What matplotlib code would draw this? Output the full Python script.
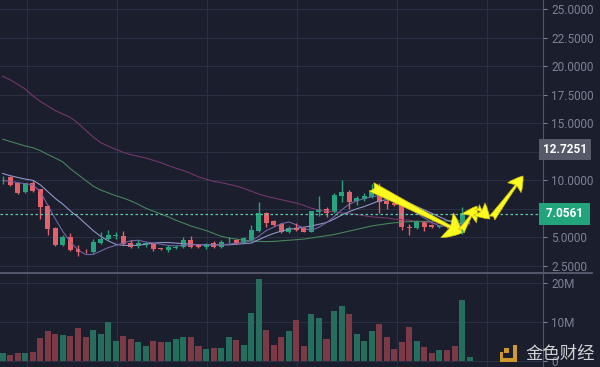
import matplotlib
matplotlib.use('Agg')
import matplotlib.pyplot as plt
import numpy as np
from matplotlib.lines import Line2D
from matplotlib.patches import Rectangle

# candle data (one entry per day)
opens = [10.0, 10.26, 9.74, 8.97, 9.74, 9.22, 7.75, 5.85, 4.33, 5.0,
         3.98, 3.85, 3.7, 4.53, 4.87, 5.12, 5.15, 4.53, 4.33, 4.3,
         4.42, 4.05, 3.9, 4.1, 4.13, 4.77, 4.3, 4.13, 4.53, 4.19,
         4.65, 4.77, 4.62, 4.77, 5.6, 7.1, 6.44, 6.2, 5.45, 5.85,
         5.85, 5.5, 7.2, 7.45, 7.2, 8.63, 9.0, 8.22, 8.33, 8.5,
         9.15, 8.22, 8.0, 7.84, 5.9, 5.8, 6.33, 6.1, 5.9, 6.0,
         6.0, 5.35, 7.0]
highs = [10.38, 10.4, 9.8, 9.8, 10.03, 9.25, 7.8, 5.9, 5.2, 5.41,
         4.3, 4.0, 4.85, 5.5, 5.65, 5.45, 5.6, 4.75, 4.75, 4.6,
         4.5, 4.1, 4.35, 4.35, 5.0, 5.1, 4.4, 4.55, 4.7, 4.75,
         5.0, 4.9, 5.0, 6.1, 8.07, 7.25, 6.55, 6.3, 6.0, 6.3,
         5.95, 7.35, 8.63, 7.7, 8.93, 10.03, 9.15, 8.65, 8.85, 9.68,
         9.75, 8.4, 8.05, 7.95, 6.2, 6.5, 6.4, 6.2, 6.1, 6.1,
         6.05, 7.7, 7.15]
lows = [9.68, 9.5, 8.8, 8.9, 8.95, 6.58, 5.18, 4.25, 4.25, 3.85,
        3.4, 3.6, 3.65, 4.4, 4.75, 4.9, 4.35, 4.05, 4.1, 4.2,
        3.85, 3.9, 3.75, 3.95, 4.05, 4.1, 4.1, 3.95, 4.1, 4.1,
        4.5, 4.45, 4.55, 4.7, 5.5, 5.94, 6.0, 5.4, 5.35, 5.6,
        5.45, 5.45, 6.9, 6.75, 7.15, 8.1, 7.5, 7.85, 8.2, 8.45,
        7.17, 7.5, 7.75, 5.65, 5.21, 5.75, 5.6, 5.85, 5.8, 5.8,
        5.3, 5.3, 6.95]
closes = [10.05, 9.59, 8.92, 9.74, 9.04, 7.69, 5.71, 4.33, 5.06, 3.9,
          3.7, 3.78, 4.63, 4.83, 5.2, 5.18, 4.42, 4.13, 4.47, 4.53,
          3.96, 3.98, 4.19, 4.15, 4.77, 4.19, 4.16, 4.42, 4.19, 4.6,
          4.72, 4.53, 4.92, 5.65, 7.1, 6.29, 6.1, 5.5, 5.85, 5.65,
          5.5, 7.3, 7.5, 7.15, 8.72, 9.0, 8.13, 8.48, 8.63, 9.15,
          8.13, 7.93, 7.85, 5.9, 5.8, 6.38, 5.9, 5.95, 6.0, 5.9,
          5.4, 7.1, 7.0561]
# volume in millions
volume_m = [1.9, 1.6, 1.9, 1.9, 2.3, 5.9, 7.6, 6.9, 6.6, 6.3,
            8.3, 6.1, 8.0, 7.0, 10.0, 5.2, 6.3, 5.6, 4.9, 3.9,
            5.0, 4.7, 4.9, 5.6, 6.1, 6.1, 3.7, 3.0, 3.3, 3.3,
            6.1, 5.4, 4.1, 12.3, 21.0, 7.8, 4.1, 6.1, 7.6, 10.5,
            3.9, 12.0, 11.0, 5.6, 12.7, 14.2, 12.0, 6.9, 5.2, 7.6,
            9.4, 6.1, 3.0, 4.7, 8.7, 5.2, 3.5, 1.9, 2.7, 2.7,
            3.7, 15.6, 0.9]

# moving average lines as drawn on the chart
ma_fast = [10.0, 9.9, 9.8, 9.7, 9.6, 9.0, 7.8, 6.6, 5.5, 4.6,
           3.9, 3.5, 3.5, 3.8, 4.1, 4.3, 4.5, 4.7, 4.75, 4.6,
           4.5, 4.4, 4.3, 4.25, 4.3, 4.35, 4.35, 4.35, 4.35, 4.35,
           4.4, 4.5, 4.55, 4.7, 5.1, 5.6, 5.9, 6.2, 6.35, 6.1,
           5.8, 5.6, 5.9, 6.3, 6.8, 7.4, 7.9, 8.2, 8.4, 8.55,
           8.65, 8.6, 8.4, 8.1, 7.6, 7.1, 6.7, 6.3, 6.0, 6.0,
           5.95, 6.2, 6.3]
ma_mid = [10.6, 10.4, 10.25, 10.1, 10.0, 9.6, 9.0, 8.4, 7.9, 7.3,
          6.8, 6.2, 5.6, 5.1, 4.7, 4.4, 4.3, 4.3, 4.3, 4.4,
          4.5, 4.55, 4.55, 4.5, 4.45, 4.4, 4.35, 4.35, 4.35, 4.35,
          4.35, 4.4, 4.45, 4.5, 4.8, 5.1, 5.35, 5.55, 5.7, 5.8,
          5.9, 6.0, 6.15, 6.3, 6.6, 6.95, 7.25, 7.5, 7.7, 7.95,
          8.2, 8.3, 8.3, 8.2, 8.0, 7.7, 7.4, 7.1, 6.8, 6.5,
          6.3, 6.2, 6.25]
ma_green = [13.6, 13.4, 13.2, 13.0, 12.85, 12.6, 12.25, 11.95, 11.6, 11.0,
            10.5, 10.0, 9.5, 9.15, 8.9, 8.65, 8.45, 8.2, 7.9, 7.55,
            7.3, 7.05, 6.8, 6.5, 6.25, 6.0, 5.8, 5.6, 5.35, 5.1,
            4.95, 4.85, 4.75, 4.7, 4.65, 4.63, 4.65, 4.7, 4.75, 4.8,
            4.85, 4.95, 5.05, 5.15, 5.25, 5.4, 5.55, 5.7, 5.85, 6.0,
            6.1, 6.2, 6.28, 6.33, 6.38, 6.4, 6.4, 6.4, 6.42, 6.43,
            6.45, 6.47, 6.5]
ma_slow = [19.1, 18.8, 18.4, 18.0, 17.4, 16.9, 16.5, 16.1, 15.8, 15.5,
           15.0, 14.4, 13.8, 13.3, 13.0, 12.7, 12.45, 12.25, 12.1, 11.95,
           11.75, 11.55, 11.3, 11.05, 10.85, 10.6, 10.3, 10.1, 9.9, 9.8,
           9.65, 9.5, 9.3, 9.05, 8.8, 8.6, 8.45, 8.3, 8.15, 8.0,
           7.8, 7.55, 7.4, 7.3, 7.25, 7.15, 7.1, 7.0, 6.9, 6.8,
           6.75, 6.7, 6.6, 6.55, 6.5, 6.4, 6.35, 6.25, 6.2, 6.15,
           6.1, 6.1, 6.1]

price_ticks = [2.5, 5.0, 7.5, 10.0, 12.5, 15.0, 17.5, 20.0, 22.5, 25.0]
volume_ticks = [0, 10, 20]
volume_labels = ['0', '10M', '20M']
grid_days = [3.2, 15.2, 27.1, 39.1, 52.4, 64.3]
last_price = 7.0561
marker_price = 12.7251

# hand drawn yellow arrows (day index, price)
arrow_paths = [((49.0, 9.41), (61.0, 5.39)),
               ((60.9, 5.56), (63.0, 7.75)),
               ((63.0, 7.66), (64.7, 6.61)),
               ((65.0, 6.70), (69.1, 10.38))]

bg = '#1b1e2d'
grid_c = '#2b2f42'
txt_c = '#7c8194'
up_c = '#27a37d'
down_c = '#e2616a'
vol_up = '#256d5d'
vol_down = '#7b3a45'

plt.rcParams['font.family'] = ['Roboto', 'DejaVu Sans']

fig = plt.figure(figsize=(6, 3.67), dpi=100, facecolor=bg)
ax = fig.add_axes([0, 0.2589, 0.905, 0.7411], facecolor=bg)
axv = fig.add_axes([0, 0, 0.905, 0.2534], facecolor=bg)

days = np.arange(len(closes))
o = np.array(opens)
c = np.array(closes)
up = c >= o
colors = np.where(up, up_c, down_c)

# moving averages
ax.plot(days, ma_slow, color='#74366c', lw=0.8)
ax.plot(days, ma_green, color='#468559', lw=0.8)
ax.plot(days, ma_mid, color='#8e96c8', lw=0.8)
ax.plot(days, ma_fast, color='#7364a6', lw=0.8)

# candles
ax.vlines(days, lows, highs, color=colors, lw=1.0)
body_h = np.maximum(np.abs(c - o), 0.06)
ax.bar(days, body_h, bottom=np.minimum(o, c), width=0.66, color=colors, linewidth=0)

ax.axhline(last_price, color='#5cc9ab', lw=0.9, ls=(0, (2, 2)))

for i, (start, end) in enumerate(arrow_paths):
    if i == 0:
        style = 'fancy,head_length=0.55,head_width=0.9,tail_width=0.32'
        scale = 22
    else:
        style = 'fancy,head_length=0.7,head_width=0.8,tail_width=0.32'
        scale = 15
    ax.annotate('', xy=end, xytext=start,
                arrowprops=dict(arrowstyle=style, fc='#fafa1e', ec='#c9bb12',
                                lw=0.5, shrinkA=0, shrinkB=0, mutation_scale=scale))

ax.set_xlim(-0.36, 71.75)
ax.set_ylim(1.97, 25.79)
ax.set_yticks(price_ticks)
# 12.5 and 7.5 sit under the price markers
ax.set_yticklabels(['' if t in (7.5, 12.5) else '%.4f' % t for t in price_ticks])
ax.set_xticks(grid_days)
ax.set_xticklabels([])

# volume
axv.bar(days, volume_m, width=0.8, color=np.where(up, vol_up, vol_down), linewidth=0)
axv.set_xlim(-0.36, 71.75)
axv.set_ylim(-1.6, 22.3)
axv.set_yticks(volume_ticks)
axv.set_yticklabels(volume_labels)
axv.set_xticks(grid_days)
axv.set_xticklabels([])

for a in (ax, axv):
    a.yaxis.tick_right()
    a.tick_params(axis='y', colors=txt_c, labelsize=8.5, length=3, pad=3)
    a.tick_params(axis='x', length=0)
    a.grid(True, color=grid_c, lw=0.8)
    a.set_axisbelow(True)
    for s in ('top', 'left', 'bottom'):
        a.spines[s].set_visible(False)
    a.spines['right'].set_color('#50556a')

# price markers on the axis
ax.text(1.0, marker_price, '12.7251', transform=ax.get_yaxis_transform(),
        ha='left', va='center', color='white', fontsize=8.5, fontweight='bold',
        bbox=dict(boxstyle='square,pad=0.35', fc='#565a68', ec='none'), clip_on=False)
ax.text(1.0, last_price, ' 7.0561 ', transform=ax.get_yaxis_transform(),
        ha='left', va='center', color='white', fontsize=8.5, fontweight='bold',
        bbox=dict(boxstyle='square,pad=0.35', fc='#22a57b', ec='none'), clip_on=False)

# pane separator
fig.add_artist(Line2D([0, 592 / 600], [1 - 273 / 367] * 2, color='#5d6275', lw=1.2,
                      transform=fig.transFigure))

# watermark
gold = '#cf9a2c'
def px(x, y):
    return x / 600, 1 - y / 367
for x0, y0, w, h in [(513, 345, 4, 17), (500, 358, 17, 4), (500, 352, 3, 10), (504, 348, 5, 5)]:
    fx, fy = px(x0, y0 + h)
    fig.add_artist(Rectangle((fx, fy), w / 600, h / 367, transform=fig.transFigure,
                             fc=gold, ec='none'))
fig.text(560 / 600, 1 - 354 / 367, '金色财经', ha='center', va='center', color='#e6e6e6',
         alpha=0.9, fontsize=12.5, family=['Noto Sans CJK SC', 'DejaVu Sans'])

fig.savefig('out.png', dpi=100, facecolor=bg)
